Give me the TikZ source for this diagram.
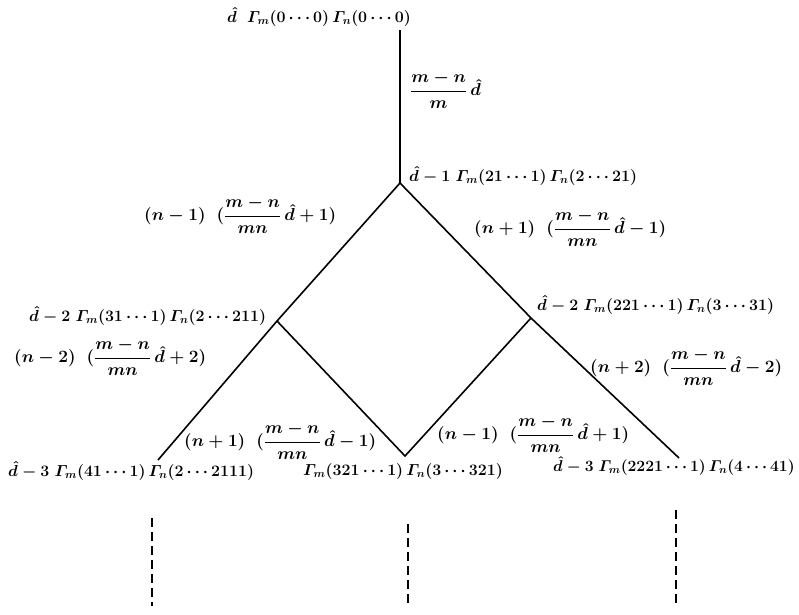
\documentclass[tikz,border=0pt]{standalone}
\usepackage{amsmath}
\usepackage{graphicx}
\newcommand{\vtxt}[1]{\scalebox{1.11}{$#1$}}
\begin{document}
\begin{tikzpicture}[x=1pt,y=-1pt,
  edge/.style={line width=1.6pt},
  dashline/.style={line width=1.8pt,dash pattern=on 9pt off 5pt},
  lab/.style={inner sep=0pt,anchor=west,font=\fontsize{17.28}{20}\selectfont\boldmath},
  vlab/.style={inner sep=0pt,anchor=west,font=\fontsize{14.4}{17}\selectfont\boldmath},
  pt/.style={coordinate}]
\useasboundingbox (0,0) rectangle (799,614);
% branch points
\node[pt] (top) at (400,30) {};
\node[pt] (a) at (400,183) {};
\node[pt] (b) at (277,321) {};
\node[pt] (c) at (531,318) {};
\node[pt] (d) at (158,460) {};
\node[pt] (e) at (405,456) {};
\node[pt] (f) at (679,458) {};
% dashed continuations
\node[pt] (d1) at (152,518) {};
\node[pt] (d2) at (152,606) {};
\node[pt] (e1) at (408,524) {};
\node[pt] (e2) at (408,606) {};
\node[pt] (f1) at (676,510) {};
\node[pt] (f2) at (676,606) {};
% edges
\draw[edge] (top) -- (a);
\draw[edge] (a) -- (b) -- (d);
\draw[edge] (a) -- (c) -- (f);
\draw[edge] (b) -- (e) -- (c);
\draw[dashline] (d1) -- (d2);
\draw[dashline] (e1) -- (e2);
\draw[dashline] (f1) -- (f2);
% vertex labels
\node[vlab] (L0) at (227,17) {\vtxt{\hat d\;\;\varGamma_{m}(0\cdots0)\,\varGamma_{n}(0\cdots0)}};
\node[vlab] (L1) at (409,176) {\vtxt{\hat d-1\;\varGamma_{m}(21\cdots1)\,\varGamma_{n}(2\cdots21)}};
\node[vlab] (L2) at (29,316) {\vtxt{\hat d-2\;\varGamma_{m}(31\cdots1)\,\varGamma_{n}(2\cdots211)}};
\node[vlab] (L3) at (537,305) {\vtxt{\hat d-2\;\varGamma_{m}(221\cdots1)\,\varGamma_{n}(3\cdots31)}};
\node[vlab] (L4) at (8,471) {\vtxt{\hat d-3\;\varGamma_{m}(41\cdots1)\,\varGamma_{n}(2\cdots2111)}};
\node[vlab] (L5) at (303,471) {\vtxt{\varGamma_{m}(321\cdots1)\,\varGamma_{n}(3\cdots321)}};
\node[vlab] (L6) at (553,466) {\scalebox{1.09}{$\hat d-3\;\varGamma_{m}(2221\cdots1)\,\varGamma_{n}(4\cdots41)$}};
% edge labels
\node[lab] (E0) at (410,90) {$\dfrac{m-n}{m}\,\hat d$};
\node[lab] (E1) at (144,215) {$(n-1)\;\;(\dfrac{m-n}{mn}\,\hat d+1)$};
\node[lab] (E2) at (474,228) {$(n+1)\;\;(\dfrac{m-n}{mn}\,\hat d-1)$};
\node[lab] (E3) at (14,357) {$(n-2)\;\;(\dfrac{m-n}{mn}\,\hat d+2)$};
\node[lab] (E4) at (590,367) {$(n+2)\;\;(\dfrac{m-n}{mn}\,\hat d-2)$};
\node[lab] (E5) at (184,441) {$(n+1)\;\;(\dfrac{m-n}{mn}\,\hat d-1)$};
\node[lab] (E6) at (437,434) {$(n-1)\;\;(\dfrac{m-n}{mn}\,\hat d+1)$};
\end{tikzpicture}
\end{document}
